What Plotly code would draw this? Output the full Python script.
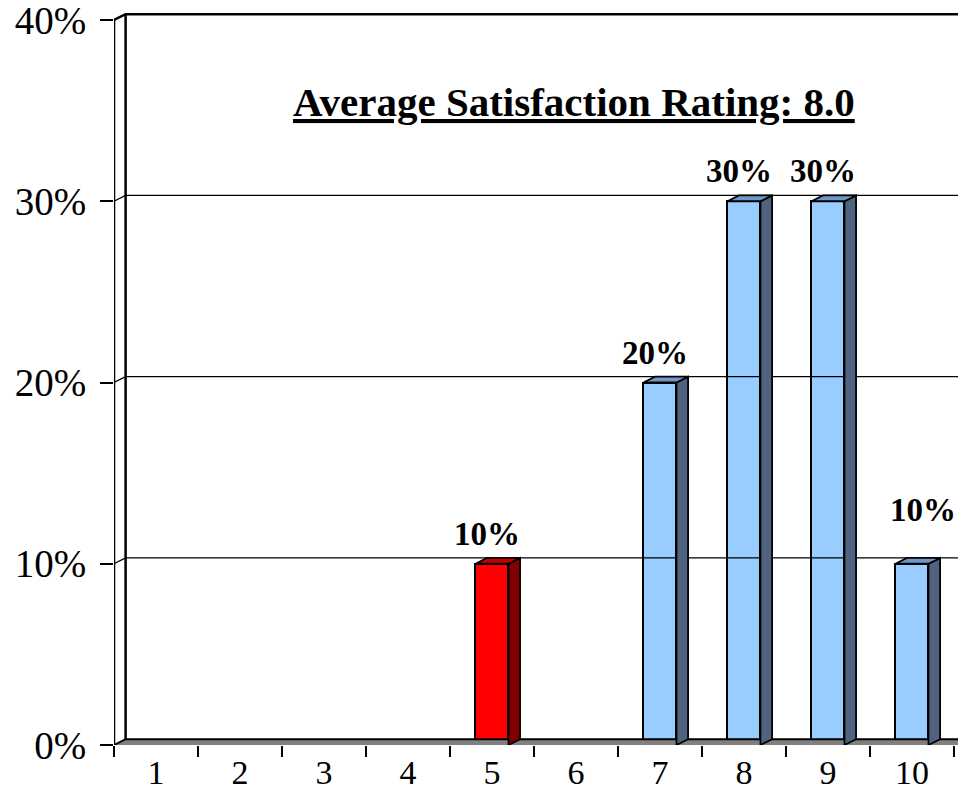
import plotly.graph_objects as go

# Satisfaction rating distribution
categories = [1, 2, 3, 4, 5, 6, 7, 8, 9, 10]
share_pct = [0, 0, 0, 0, 10, 0, 20, 30, 30, 10]
highlight = [5]
y_ticks = [0, 10, 20, 30, 40]
y_tick_labels = ["0%", "10%", "20%", "30%", "40%"]
title_text = "Average Satisfaction Rating: 8.0"

FONT = "Liberation Serif"
BLUE = dict(front="#99CCFF", side="#506482", top="#6E98C8")
RED = dict(front="#FF0000", side="#800000", top="#C40000")

# 3-D depth of the chart, in axis units
DX, DY = 0.138, 0.32
BAR_W = 0.393
X0 = 0.5
X_MAX = 10.548
Y_TOP = 41.103

fig = go.Figure()

# floor slab
fig.add_trace(go.Scatter(
    x=[X0, X0 + DX, X_MAX, X_MAX, X0], y=[0, DY, DY, 0, 0],
    mode="lines", fill="toself", fillcolor="#808080",
    line=dict(color="rgba(0,0,0,0)", width=0), hoverinfo="skip", showlegend=False))
fig.add_trace(go.Scatter(
    x=[X0, X0 + DX, X_MAX], y=[0, DY, DY], mode="lines",
    line=dict(color="black", width=2), hoverinfo="skip", showlegend=False))

# left wall edges
fig.add_trace(go.Scatter(
    x=[X0, X0], y=[0, y_ticks[-1]], mode="lines",
    line=dict(color="black", width=2.5), hoverinfo="skip", showlegend=False))
fig.add_trace(go.Scatter(
    x=[X0 + DX, X0 + DX], y=[DY, y_ticks[-1] + DY], mode="lines",
    line=dict(color="black", width=2.5), hoverinfo="skip", showlegend=False))

# gridlines: across the side wall, then along the back wall
for v in y_ticks[1:]:
    w = 2.5 if v == y_ticks[-1] else 1.2
    fig.add_trace(go.Scatter(
        x=[X0, X0 + DX, X_MAX], y=[v, v + DY, v + DY], mode="lines",
        line=dict(color="black", width=w), hoverinfo="skip", showlegend=False))

# bars: front faces
xs = [c for c, v in zip(categories, share_pct) if v > 0]
vs = [v for v in share_pct if v > 0]
palette = [RED if c in highlight else BLUE for c in xs]
fig.add_trace(go.Bar(
    x=xs, y=vs, width=BAR_W,
    marker=dict(color=[p["front"] for p in palette], line=dict(color="black", width=2)),
    hoverinfo="skip", showlegend=False))

# bars: side and top faces
for c, v, p in zip(xs, vs, palette):
    l, r = c - BAR_W / 2, c + BAR_W / 2
    fig.add_trace(go.Scatter(
        x=[r, r + DX, r + DX, r, r], y=[0, DY, v + DY, v, 0],
        mode="lines", fill="toself", fillcolor=p["side"],
        line=dict(color="black", width=1.8), hoverinfo="skip", showlegend=False))
    fig.add_trace(go.Scatter(
        x=[l, l + DX, r + DX, r, l], y=[v, v + DY, v + DY, v, v],
        mode="lines", fill="toself", fillcolor=p["top"],
        line=dict(color="black", width=1.8), hoverinfo="skip", showlegend=False))

# value labels (the last one is nudged up and right, clear of the plot edge)
for i, (c, v) in enumerate(zip(xs, vs)):
    last = i == len(xs) - 1
    fig.add_annotation(
        x=c, y=v + DY, text=f"<b>{v}%</b>", showarrow=False,
        yanchor="bottom", yshift=28 if last else 4, xshift=11 if last else -5,
        font=dict(family=FONT, size=33, color="black"))

# chart heading
fig.add_annotation(
    x=5.976, y=35.45, text=f"<u><b>{title_text}</b></u>", showarrow=False,
    font=dict(family=FONT, size=41, color="black"))

fig.update_layout(
    width=958, height=797,
    margin=dict(l=114, r=0, t=0, b=52, autoexpand=False),
    paper_bgcolor="white", plot_bgcolor="white",
    bargap=0,
    xaxis=dict(
        range=[X0, X_MAX], tickmode="array", tickvals=categories,
        ticktext=[str(c) for c in categories], ticks="",
        showgrid=False, zeroline=False, showline=False, automargin=False,
        ticklabelstandoff=4, ticklabeloverflow="allow",
        tickfont=dict(family=FONT, size=34, color="black"),
        minor=dict(tickmode="array", tickvals=[c + 0.5 for c in [0] + categories],
                   ticks="outside", ticklen=11, tickwidth=2, tickcolor="black",
                   showgrid=False),
    ),
    yaxis=dict(
        range=[0, Y_TOP], tickmode="array", tickvals=y_ticks, ticktext=y_tick_labels,
        ticks="outside", ticklen=13, tickwidth=2, tickcolor="black",
        showgrid=False, zeroline=False, showline=False, automargin=False,
        ticklabelstandoff=6, ticklabeloverflow="allow",
        tickfont=dict(family=FONT, size=39, color="black"),
    ),
)

fig.write_html("out.html")
